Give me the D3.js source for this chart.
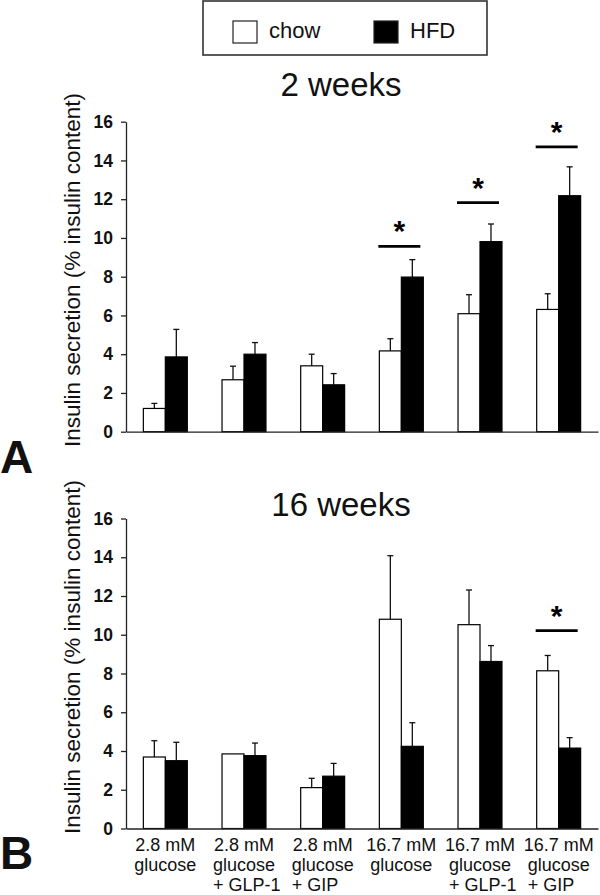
<!DOCTYPE html>
<html><head><meta charset="utf-8">
<script src="https://cdn.jsdelivr.net/npm/d3@7"></script>
<style>body{margin:0;background:#fff}svg{display:block}text{font-family:"Liberation Sans",Arial,sans-serif}</style>
</head><body>
<svg id="c" width="600" height="895"></svg>
<script>
const categories = [
  ["2.8 mM","glucose"],
  ["2.8 mM","glucose","+ GLP-1"],
  ["2.8 mM","glucose","+ GIP"],
  ["16.7 mM","glucose"],
  ["16.7 mM","glucose","+ GLP-1"],
  ["16.7 mM","glucose","+ GIP"]
];
const seriesNames = ["chow","HFD"];
const yTicks = [0,2,4,6,8,10,12,14,16];
// Panel A: 2 weeks
const chowA = [1.20,2.68,3.40,4.17,6.09,6.31];
const chowAErr = [0.26,0.70,0.60,0.63,0.98,0.81];
const hfdA = [3.86,4.00,2.42,7.98,9.81,12.18];
const hfdAErr = [1.42,0.60,0.58,0.90,0.91,1.49];
const sigA = [{g:3,y:9.57},{g:4,y:11.82},{g:5,y:14.7}];
// Panel B: 16 weeks
const chowB = [3.69,3.85,2.11,10.80,10.52,8.14];
const chowBErr = [0.84,0.00,0.48,3.28,1.79,0.79];
const hfdB = [3.50,3.76,2.70,4.24,8.62,4.15];
const hfdBErr = [0.95,0.65,0.66,1.22,0.82,0.54];
const sigB = [{g:5,y:10.21}];

const svg = d3.select("#c");
const ink = "#111";
const x0 = d3.scaleBand().domain(d3.range(categories.length)).range([126,598]).padding(0);
const x1 = d3.scaleBand().domain(seriesNames).range([0,x0.bandwidth()]).paddingInner(0).paddingOuter(0.79);
const fills = {chow:"#fff", HFD:"#000"};

// Legend
const lg = svg.append("g");
lg.append("rect").attr("x",203).attr("y",1).attr("width",284).attr("height",54)
  .attr("fill","#fff").attr("stroke","#333").attr("stroke-width",1.6);
[[233,"chow"],[374,"HFD"]].forEach(([lx,name])=>{
  lg.append("rect").attr("x",lx).attr("y",21).attr("width",24).attr("height",22)
    .attr("fill",fills[name]).attr("stroke","#222").attr("stroke-width",1.2);
  lg.append("text").attr("x",lx+36).attr("y",38).attr("font-size",22).attr("fill",ink).text(name);
});

function panel(cfg){
  const y = d3.scaleLinear().domain([0,16]).range([cfg.y0,cfg.y16]);
  const g = svg.append("g");
  g.append("text").attr("x",341).attr("y",cfg.titleY).attr("text-anchor","middle")
    .attr("font-size",33).attr("fill",ink).text(cfg.title);
  g.append("text").attr("x",0).attr("y",cfg.letterY).attr("font-size",46).attr("font-weight","bold")
    .attr("fill",ink).text(cfg.letter);
  g.append("text").attr("transform",`translate(80,${cfg.yTitleC}) rotate(-90)`).attr("text-anchor","middle")
    .attr("font-size",22.5).attr("fill",ink).text("Insulin secretion (% insulin content)");
  const data = cfg.chow.map((v,i)=>({i, vals:[
    {s:"chow",v,e:cfg.chowErr[i]},{s:"HFD",v:cfg.hfd[i],e:cfg.hfdErr[i]}]}));
  const grp = g.selectAll(".grp").data(data).join("g").attr("transform",d=>`translate(${x0(d.i)},0)`);
  grp.selectAll("line.err").data(d=>d.vals.filter(b=>b.e>0)).join("line")
    .attr("x1",b=>x1(b.s)+x1.bandwidth()/2).attr("x2",b=>x1(b.s)+x1.bandwidth()/2)
    .attr("y1",b=>y(b.v)).attr("y2",b=>y(b.v+b.e)).attr("stroke",ink).attr("stroke-width",1.3);
  grp.selectAll("line.cap").data(d=>d.vals.filter(b=>b.e>0)).join("line")
    .attr("x1",b=>x1(b.s)+x1.bandwidth()/2-3).attr("x2",b=>x1(b.s)+x1.bandwidth()/2+3)
    .attr("y1",b=>y(b.v+b.e)).attr("y2",b=>y(b.v+b.e)).attr("stroke",ink).attr("stroke-width",1.3);
  grp.selectAll("rect").data(d=>d.vals).join("rect")
    .attr("x",b=>x1(b.s)).attr("width",x1.bandwidth())
    .attr("y",b=>y(b.v)).attr("height",b=>y(0)-y(b.v))
    .attr("fill",b=>fills[b.s]).attr("stroke","#000").attr("stroke-width",1.2);
  cfg.sig.forEach(s=>{
    const c = x0(s.g)+x0.bandwidth()/2;
    g.append("line").attr("x1",c-23).attr("x2",c+19).attr("y1",y(s.y)).attr("y2",y(s.y))
      .attr("stroke","#000").attr("stroke-width",2.8);
    g.append("text").attr("x",c-2).attr("y",y(s.y)-5).attr("text-anchor","middle")
      .attr("font-size",30).attr("font-weight","bold").attr("fill","#000").text("*");
  });
  const ya = g.append("g").attr("transform","translate(126,0)")
    .call(d3.axisLeft(y).tickValues(yTicks).tickSize(5).tickPadding(8).tickSizeOuter(0));
  ya.selectAll("text").attr("font-size",17.5).attr("font-weight","bold").attr("fill",ink)
    .attr("font-family","'Liberation Sans',Arial,sans-serif");
  ya.selectAll("line,path").attr("stroke","#222").attr("stroke-width",1.3);
  const xa = g.append("g").attr("transform",`translate(0,${cfg.y0})`)
    .call(d3.axisBottom(x0).tickSize(0).tickSizeOuter(0).tickFormat(""));
  xa.select("path").attr("stroke","#222").attr("stroke-width",1.3);
  xa.selectAll(".tick text").remove();
  if(cfg.labels){
    categories.forEach((lines,i)=>{
      const c = x0(i)+x0.bandwidth()/2;
      let left = null;
      lines.forEach((ln,k)=>{
        const t = g.append("text").attr("font-size",18).attr("fill",ink)
          .attr("y",cfg.y0+22.5+k*20).text(ln);
        if(k<2){ t.attr("x",c).attr("text-anchor","middle");
          if(k===1){ left = c - t.node().getComputedTextLength()/2; } }
        else { t.attr("x",left).attr("text-anchor","start"); }
      });
    });
  }
}

panel({title:"2 weeks",titleY:96,letter:"A",letterY:473,y0:431.7,y16:121.7,yTitleC:270,
  chow:chowA,chowErr:chowAErr,hfd:hfdA,hfdErr:hfdAErr,sig:sigA,labels:false});
panel({title:"16 weeks",titleY:516,letter:"B",letterY:869,y0:828.5,y16:518.5,yTitleC:657,
  chow:chowB,chowErr:chowBErr,hfd:hfdB,hfdErr:hfdBErr,sig:sigB,labels:true});
</script>
</body></html>
